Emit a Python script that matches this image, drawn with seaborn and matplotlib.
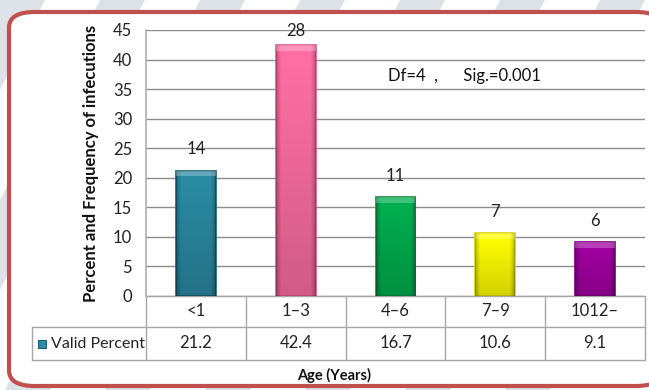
import matplotlib
matplotlib.use('Agg')
import matplotlib.pyplot as plt
import matplotlib.transforms as mtransforms
from matplotlib.patches import FancyBboxPatch, Polygon, Rectangle
import seaborn as sns
import numpy as np
import pandas as pd

age_groups = ['<1', '1\u20133', '4\u20136', '7\u20139', '1012\u2013']
valid_percent = [21.2, 42.4, 16.7, 10.6, 9.1]
frequency = [14, 28, 11, 7, 6]
bar_colors = ['#2B8CA6', '#FF6FA3', '#00B050', '#FFFF00', '#A300A3']
edge_colors = ['#1C5F72', '#E0558A', '#0A8A40', '#D6D600', '#7A007A']
y_ticks = [0, 5, 10, 15, 20, 25, 30, 35, 40, 45]
stat_text = 'Df=4  ,      Sig.=0.001'

df = pd.DataFrame({'Age': age_groups, 'Percent': valid_percent})

sns.set_theme(style='white')
plt.rcParams['font.family'] = ['Lato', 'DejaVu Sans']

W, H = 649, 390
fig = plt.figure(figsize=(W / 100, H / 100), dpi=100)

def fx(px):
    return px / W

def fy(py):
    return 1 - py / H

# background diagonal stripes
for x0 in range(-100, 800, 100):
    pts = [(fx(x0), fy(0)), (fx(x0 + 45), fy(0)),
           (fx(x0 + 45 - 200), fy(400)), (fx(x0 - 200), fy(400))]
    fig.patches.append(Polygon(pts, closed=True, transform=fig.transFigure,
                               facecolor='#DCE2E8', edgecolor='none', zorder=0))

# red rounded frame (right side runs off the image)
frame = FancyBboxPatch((fx(9), fy(386)), fx(662) - fx(9), fy(12) - fy(386),
                       boxstyle='round,pad=0,rounding_size=0.04',
                       transform=fig.transFigure, facecolor='white',
                       edgecolor='#C0504D', linewidth=3, zorder=1)
fig.patches.append(frame)

ax = fig.add_axes([fx(146), fy(296), fx(645) - fx(146), fy(30) - fy(296)])
ax.set_zorder(2)
ax.patch.set_alpha(0)

sns.barplot(data=df, x='Age', y='Percent', hue='Age', palette=bar_colors,
            saturation=1, width=0.4, legend=False, ax=ax, zorder=3)

ax.set_xlim(-0.5, 4.5)
ax.set_ylim(0, 45)

# bevel-like shading on each bar
shade = np.zeros((60, 40, 4))
yy = np.linspace(0, 1, 60)[:, None]
xx = np.linspace(0, 1, 40)[None, :]
edge = np.clip(1 - np.minimum(xx, 1 - xx) / 0.12, 0, 1)
shade[..., 3] = 0.18 * yy + 0.22 * edge
for patch, ec in zip(ax.patches, edge_colors):
    patch.set_edgecolor(ec)
    patch.set_linewidth(1.2)
    x0, y0 = patch.get_x(), patch.get_y()
    w, h = patch.get_width(), patch.get_height()
    im = ax.imshow(shade, extent=(x0, x0 + w, y0, y0 + h), origin='upper',
                   aspect='auto', zorder=3.5, interpolation='bilinear')
    im.set_clip_path(patch)
    top = Rectangle((x0, y0 + h - 0.9), w, 0.9, facecolor='white', alpha=0.25,
                    edgecolor='none', zorder=3.6)
    ax.add_patch(top)
ax.set_xlim(-0.5, 4.5)
ax.set_ylim(0, 45)

for i, (v, n) in enumerate(zip(valid_percent, frequency)):
    ax.text(i, min(v + 3.6, 44.8), str(n), ha='center', va='center',
            fontsize=12, color='#222222', zorder=4)

ax.set_yticks(y_ticks)
ax.set_yticklabels([str(t) for t in y_ticks], fontsize=12, color='#222222')
ax.tick_params(axis='y', length=0, pad=10)
ax.set_xticks([])
ax.set_xlabel('')
ax.set_ylabel('Percent and Frequency of infecutions', fontsize=12,
              fontweight='bold', color='#111111', labelpad=10)
ax.yaxis.grid(True, color='#8C8C8C', linewidth=1)
ax.set_axisbelow(True)
for side in ['top', 'right', 'bottom']:
    ax.spines[side].set_visible(False)
ax.spines['left'].set_color('#B0B0B0')

ax.text(1.92, 37.3, stat_text, fontsize=12, ha='left', va='center', color='#111111')

# data table below the axis
tr = mtransforms.blended_transform_factory(ax.transData, fig.transFigure)
line_kw = dict(transform=tr, color='#A6A6A6', linewidth=1, clip_on=False)
left = -0.5 - (146 - 32) / 99.8
y_top, y_mid, y_bot = fy(296), fy(327), fy(360)
ax.plot([-0.5, 4.5], [y_top, y_top], **line_kw)
ax.plot([left, 4.5], [y_mid, y_mid], **line_kw)
ax.plot([left, 4.5], [y_bot, y_bot], **line_kw)
ax.plot([left, left], [y_mid, y_bot], **line_kw)
for xb in [-0.5, 0.5, 1.5, 2.5, 3.5, 4.5]:
    ax.plot([xb, xb], [y_top, y_bot], **line_kw)

for i, (g, v) in enumerate(zip(age_groups, valid_percent)):
    ax.text(i, (y_top + y_mid) / 2, g, transform=tr, ha='center', va='center',
            fontsize=12, color='#222222')
    ax.text(i, (y_mid + y_bot) / 2, f'{v}', transform=tr, ha='center', va='center',
            fontsize=12, color='#222222')

fig.patches.append(Rectangle((fx(38), fy(348)), fx(8), fy(340) - fy(348),
                             transform=fig.transFigure, facecolor=bar_colors[0],
                             edgecolor=edge_colors[0], linewidth=0.8, zorder=3))
fig.text(fx(51), (y_mid + y_bot) / 2, 'Valid Percent', ha='left', va='center',
         fontsize=11.5, color='#222222', zorder=3)

fig.text(fx(334), fy(375), 'Age (Years)', ha='center', va='center',
         fontsize=10.5, fontweight='bold', color='#111111', zorder=3)

fig.savefig('out.png', dpi=100)
